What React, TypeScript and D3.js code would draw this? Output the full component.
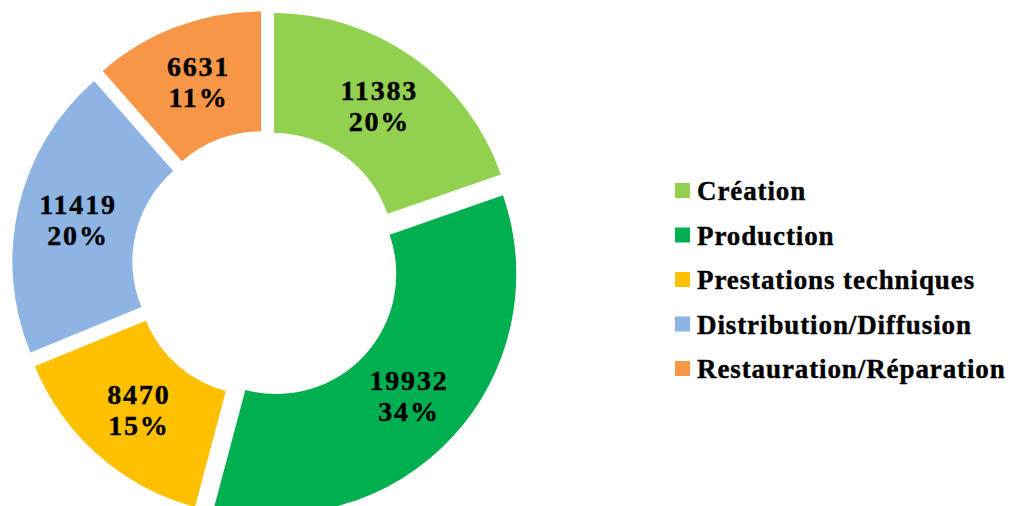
import * as d3 from "d3";

const width = 1011;
const height = 506;

const categories = [
  "Création",
  "Production",
  "Prestations techniques",
  "Distribution/Diffusion",
  "Restauration/Réparation",
];
const values = [11383, 19932, 8470, 11419, 6631];
const percents = ["20%", "34%", "15%", "20%", "11%"];
const colors = ["#92D050", "#00B050", "#FFC000", "#8EB4E3", "#F79646"];

const cx = 266;
const cy = 264.5;
const outerR = 240;
const innerR = 120;
const explode = 14;
const font = "'Liberation Serif', 'Times New Roman', serif";

function App() {
  const pie = d3
    .pie<number>()
    .sort(null)
    .value((d) => d);
  const arcs = pie(values);
  const arc = d3
    .arc<d3.PieArcDatum<number>>()
    .innerRadius(innerR)
    .outerRadius(outerR);

  // legend rows
  const legendY = d3
    .scalePoint()
    .domain(categories)
    .range([190.5, 368.5]);

  return (
    <svg
      width={width}
      height={height}
      style={{ position: "absolute", left: 0, top: 0, background: "#fff" }}
    >
      <g transform={`translate(${cx},${cy})`}>
        {arcs.map((a, i) => {
          const mid = (a.startAngle + a.endAngle) / 2;
          const dx = explode * Math.sin(mid);
          const dy = -explode * Math.cos(mid);
          const [lx, ly] = arc.centroid(a);
          return (
            <g key={i} transform={`translate(${dx},${dy})`}>
              <path d={arc(a) || ""} fill={colors[i]} />
              <text
                textAnchor="middle"
                fontFamily={font}
                fontWeight="bold"
                fontSize={28}
                letterSpacing={1.8}
                stroke="#000"
                strokeWidth={0.4}
                fill="#000"
              >
                <tspan x={lx + 0.9} y={ly - 6.5}>
                  {values[i]}
                </tspan>
                <tspan x={lx + 0.9} y={ly + 24.5}>
                  {percents[i]}
                </tspan>
              </text>
            </g>
          );
        })}
      </g>
      <g>
        {categories.map((c, i) => (
          <g key={c} transform={`translate(675,${legendY(c)})`}>
            <rect x={0} y={-7.5} width={15} height={15} fill={colors[i]} />
            <text
              x={22}
              y={9.5}
              fontFamily={font}
              fontWeight="bold"
              fontSize={27}
              letterSpacing={0.9}
              stroke="#000"
              strokeWidth={0.4}
              fill="#000"
            >
              {c}
            </text>
          </g>
        ))}
      </g>
    </svg>
  );
}

export default App;
